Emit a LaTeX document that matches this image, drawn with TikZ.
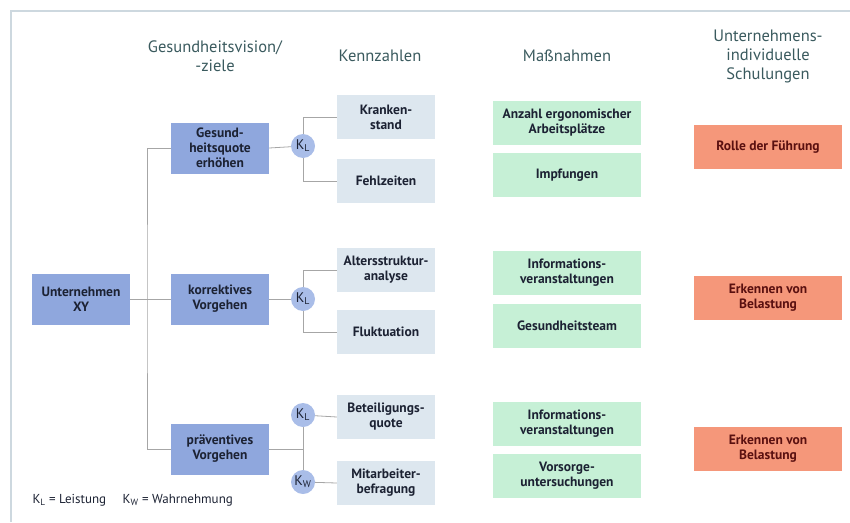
\documentclass[tikz,border=0pt]{standalone}
\usepackage{fontspec}
\setmainfont{PT Sans}
\usepackage{xcolor}
\usepackage{tikz}
\usetikzlibrary{positioning}
\usetikzlibrary{backgrounds}
\usetikzlibrary{calc}

\definecolor{zielblau}{HTML}{8FA7DD}
\definecolor{kreisblau}{HTML}{A9BDE8}
\definecolor{kennblau}{HTML}{DDE7EF}
\definecolor{massgruen}{HTML}{C6F0D6}
\definecolor{schulrot}{HTML}{F5977A}
\definecolor{kopfgrau}{HTML}{3A5A5E}
\definecolor{rahmen}{HTML}{CDD8DF}
\definecolor{textdunkel}{HTML}{1C2233}
\definecolor{textrot}{HTML}{5A1010}

\begin{document}
\begin{tikzpicture}[x=1pt,y=-1pt,
  kopf/.style={align=center,text=kopfgrau,font=\fontsize{16.5}{19}\selectfont},
  ziel/.style={fill=zielblau,minimum width=98pt,minimum height=51pt,align=center,text=textdunkel,font=\bfseries\fontsize{13.5}{15}\selectfont,inner sep=0pt},
  kenn/.style={fill=kennblau,minimum width=98pt,minimum height=44pt,align=center,text=textdunkel,font=\bfseries\fontsize{13.5}{15}\selectfont,inner sep=0pt},
  mass/.style={fill=massgruen,minimum width=148pt,minimum height=44pt,align=center,text=textdunkel,font=\bfseries\fontsize{13.5}{15}\selectfont,inner sep=0pt},
  schul/.style={fill=schulrot,minimum width=148pt,minimum height=44pt,align=center,text=textrot,font=\bfseries\fontsize{13.5}{15}\selectfont,inner sep=0pt},
  kreis/.style={circle,fill=kreisblau,minimum size=24pt,inner sep=0pt,text=textdunkel,font=\fontsize{14}{15}\selectfont},
  linie/.style={draw=gray!70,line width=0.8pt}]

\useasboundingbox (0,0) rectangle (850,522);
\draw[rahmen,line width=1.5pt] (11,522) -- (11,11) -- (850,11);

\node[kopf] (h1) at (215,56) {Gesundheitsvision/\\-ziele};
\node[kopf] (h2) at (380,56) {Kennzahlen};
\node[kopf] (h3) at (567,56) {Maßnahmen};
\node[kopf] (h4) at (768,56) {Unternehmens-\\individuelle\\Schulungen};

\node[ziel] (ux) at (81,299) {Unternehmen\\XY};
\node[ziel] (gq) at (220,148) {Gesund-\\heitsquote\\erhöhen};
\node[ziel] (kv) at (220,299) {korrektives\\Vorgehen};
\node[ziel] (pv) at (220,449) {präventives\\Vorgehen};

\node[kreis] (kl1) at (303,146) {K\textsubscript{L}};
\node[kreis] (kl2) at (303,299) {K\textsubscript{L}};
\node[kreis] (kl3) at (303,415) {K\textsubscript{L}};
\node[kreis] (kw) at (303,482) {K\textsubscript{W}};

\node[kenn] (ks) at (386,117) {Kranken-\\stand};
\node[kenn] (fz) at (386,181) {Fehlzeiten};
\node[kenn] (aa) at (386,270) {Altersstruktur-\\analyse};
\node[kenn] (fl) at (386,332) {Fluktuation};
\node[kenn] (bq) at (386,417) {Beteiligungs-\\quote};
\node[kenn] (mb) at (386,483) {Mitarbeiter-\\befragung};

\node[mass] (ae) at (567,123) {Anzahl ergonomischer\\Arbeitsplätze};
\node[mass] (im) at (567,175) {Impfungen};
\node[mass] (iv1) at (567,273) {Informations-\\veranstaltungen};
\node[mass] (gt) at (567,326) {Gesundheitsteam};
\node[mass] (iv2) at (567,424) {Informations-\\veranstaltungen};
\node[mass] (vu) at (567,476) {Vorsorge-\\untersuchungen};

\node[schul] (rf) at (768,147) {Rolle der Führung};
\node[schul] (eb1) at (768,298) {Erkennen von\\Belastung};
\node[schul] (eb2) at (768,449) {Erkennen von\\Belastung};

\node[anchor=west,text=textdunkel,font=\fontsize{13}{15}\selectfont] (leg) at (29,500) {K\textsubscript{L} = Leistung\quad\ K\textsubscript{W} = Wahrnehmung};

\begin{pgfonlayer}{background}
\coordinate (ast) at (147,299);
\draw[linie] (ux.east) -- (kv.west);
\draw[linie] (gq.west) -| (ast) |- (pv.west);
\draw[linie] (gq.east) -- (kl1);
\draw[linie] (kv.east) -- (kl2);
\draw[linie] (pv.east) -| (kl3);
\draw[linie] (kl3) -- (kw);
\draw[linie] (kl1) |- (ks.west);
\draw[linie] (kl1) |- (fz.west);
\draw[linie] (kl2) |- (aa.west);
\draw[linie] (kl2) |- (fl.west);
\draw[linie] (kl3) -- (bq.west);
\draw[linie] (kw) -- (mb.west);
\end{pgfonlayer}

\end{tikzpicture}
\end{document}
